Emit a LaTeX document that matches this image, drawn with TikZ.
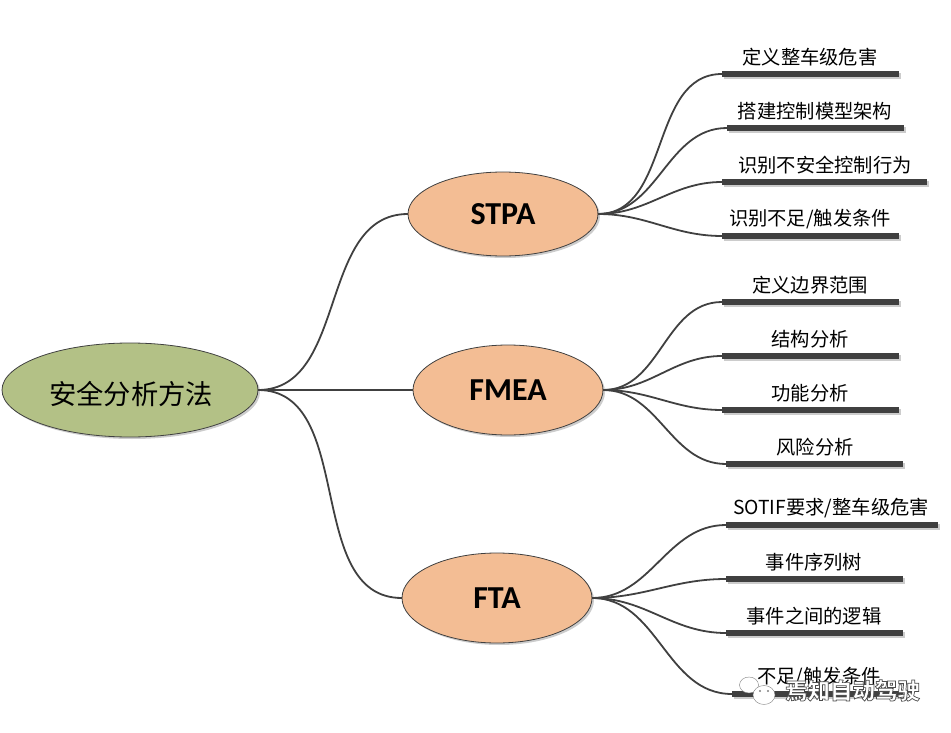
\documentclass[tikz,border=0pt]{standalone}
\usepackage{fontspec}
\newfontfamily\cjkfont{Noto Sans CJK SC}
\newfontfamily\brfont{Carlito}
\usetikzlibrary{shapes.geometric, shadows, positioning}
\definecolor{rootgreen}{HTML}{B3C186}
\definecolor{subpeach}{HTML}{F3BD94}
\definecolor{linegray}{HTML}{404040}

\begin{document}
\begin{tikzpicture}[x=1pt,y=-1pt,
 soft/.style={drop shadow={shadow xshift=2pt,shadow yshift=-2pt,opacity=0.2,fill=black}},
 root node/.style={ellipse,draw=linegray,thick,fill=rootgreen,soft,minimum width=256pt,minimum height=94pt,inner sep=0pt,outer sep=0pt},
 sub node/.style={ellipse,draw=linegray,thick,fill=subpeach,soft,minimum width=190pt,minimum height=84pt,inner sep=0pt,outer sep=0pt,font=\brfont\bfseries\fontsize{32}{36}\selectfont},
 bar node/.style={rectangle,fill=linegray,soft,minimum height=6pt,inner sep=0pt,outer sep=0pt},
 leaf text/.style={inner sep=0pt,font=\cjkfont\fontsize{19.3}{22}\selectfont},
 mark text/.style={inner sep=0pt,text=white,font=\cjkfont\bfseries\fontsize{22.5}{26}\selectfont},
 link/.style={draw=linegray,line width=1.8pt}]
  \useasboundingbox (0,0) rectangle (951,733);

  \node[root node] (root) at (130,390) {};
  \node[inner sep=0pt,font=\cjkfont\fontsize{27.3}{30}\selectfont] (roott) at (131,394) {安全分析方法};
  \node[sub node] (stpa) at (503,214) {STPA};
  \node[sub node,minimum height=90pt] (fmea) at (508,390) {FMEA};
  \node[sub node,minimum height=90pt] (fta) at (497,598) {FTA};

  % bars: name/left end/y/length
  \foreach \n/\x/\y/\w in {a1/722/74/177, a2/727/128/177, a3/722/182/205, a4/722/236/177,
                           b1/722/302/177, b2/722/356/177, b3/722/410/177, b4/726/464/177,
                           c1/726/525/212, c2/726/579/177, c3/726/633/177, c4/732/694/171} {
   \node[bar node,minimum width=\w pt,anchor=west] (\n) at (\x,\y) {};}

  \node[leaf text] (a1t) at (810,57) {定义整车级危害};
  \node[leaf text] (a2t) at (815,111) {搭建控制模型架构};
  \node[leaf text] (a3t) at (825,165) {识别不安全控制行为};
  \node[leaf text] (a4t) at (810,219) {识别不足/触发条件};
  \node[leaf text] (b1t) at (810,285) {定义边界范围};
  \node[leaf text] (b2t) at (810,339) {结构分析};
  \node[leaf text] (b3t) at (810,393) {功能分析};
  \node[leaf text] (b4t) at (815,447) {风险分析};
  \node[leaf text] (c1t) at (831,508) {SOTIF要求/整车级危害};
  \node[leaf text] (c2t) at (814,562) {事件序列树};
  \node[leaf text] (c3t) at (814,616) {事件之间的逻辑};
  \node[leaf text] (c4t) at (819,677) {不足/触发条件};

  \foreach \s/\t in {root/stpa, root/fmea, root/fta,
                     stpa/a1, stpa/a2, stpa/a3, stpa/a4,
                     fmea/b1, fmea/b2, fmea/b3, fmea/b4,
                     fta/c1, fta/c2, fta/c3, fta/c4} {
   \path[link] (\s.east) edge[out=0,in=180] (\t.west);}

  % watermark
  \node[ellipse,draw=gray,fill=white,minimum width=19pt,minimum height=16pt,inner sep=0pt] (wechat1) at (749,685) {};
  \node[ellipse,draw=gray,fill=white,minimum width=22pt,minimum height=19pt,inner sep=0pt] (wechat2) at (764,695) {};
  \node[fill=gray,circle,inner sep=0.8pt] (eye1) at (760,691) {};
  \node[fill=gray,circle,inner sep=0.8pt] (eye2) at (768,691) {};
  \node[mark text] (mark) at (852.5,690.5) {\special{pdf:code 2 Tr 0.7 w 0.3 0.3 0.3 RG}焉知自动驾驶\special{pdf:code 0 Tr}};
\end{tikzpicture}
\end{document}
